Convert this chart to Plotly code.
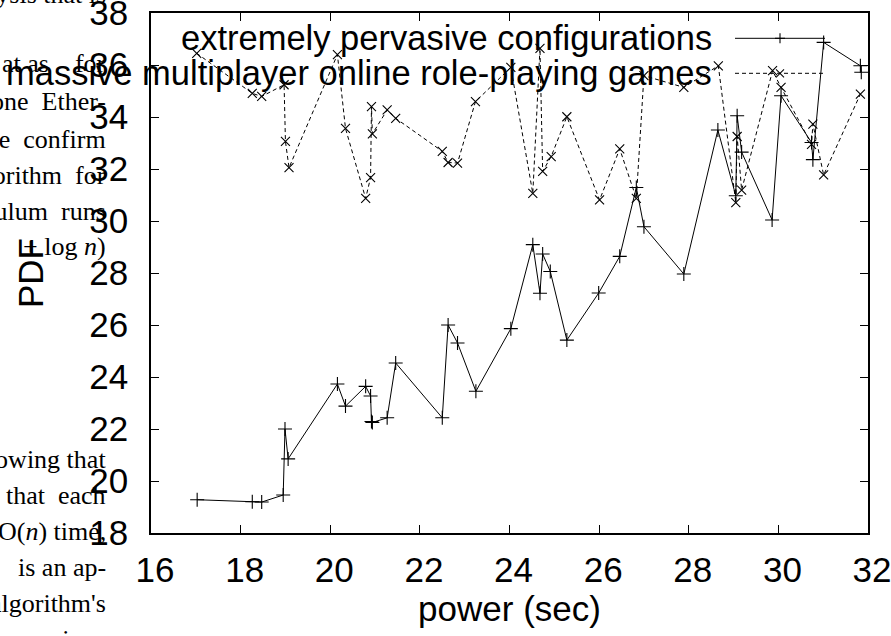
import plotly.graph_objects as go

# ---------------- data ----------------
x_solid = [17.03, 18.26, 18.47, 18.95, 18.99, 19.06, 20.16, 20.34, 20.79, 20.90,
           20.92, 20.94, 21.27, 21.46, 22.50, 22.63, 22.84, 23.25, 24.03, 24.52,
           24.68, 24.74, 24.91, 25.28, 25.99, 26.46, 26.83, 27.00, 27.89, 28.65,
           29.05, 29.08, 29.18, 29.86, 30.06, 30.74, 30.77, 31.01, 31.83, 31.85]
y_solid = [19.28, 19.20, 19.19, 19.46, 22.00, 20.85, 23.73, 22.88, 23.64, 23.27,
           22.29, 22.25, 22.43, 24.54, 22.43, 26.00, 25.31, 23.45, 25.86, 29.09,
           27.22, 28.73, 28.06, 25.42, 27.23, 28.64, 31.29, 29.78, 27.96, 33.50,
           30.97, 34.05, 32.65, 30.04, 34.82, 33.02, 32.36, 36.87, 35.97, 35.72]

x_dashed = [17.02, 18.26, 18.47, 18.97, 19.00, 19.08, 20.16, 20.34, 20.79, 20.90,
            20.92, 20.94, 21.27, 21.46, 22.50, 22.63, 22.84, 23.24, 24.03, 24.52,
            24.68, 24.74, 24.93, 25.28, 26.01, 26.46, 26.83, 27.00, 27.89, 28.66,
            29.05, 29.08, 29.18, 29.87, 30.06, 30.74, 30.77, 31.01, 31.83]
y_dashed = [36.45, 34.91, 34.79, 35.24, 33.06, 32.05, 36.40, 33.56, 30.87, 31.67,
            34.40, 33.35, 34.27, 33.95, 32.68, 32.25, 32.23, 34.59, 35.91, 31.06,
            36.64, 31.91, 32.48, 34.01, 30.81, 32.77, 30.87, 35.59, 35.14, 35.97,
            30.71, 33.25, 31.19, 35.78, 35.14, 32.95, 33.73, 31.77, 34.88]

series_names = ["extremely pervasive configurations",
                "massive multiplayer online role-playing games"]
x_ticks = [16, 18, 20, 22, 24, 26, 28, 30, 32]
y_ticks = [18, 20, 22, 24, 26, 28, 30, 32, 34, 36, 38]
x_title = "power (sec)"
y_title = "PDF"

# stray text of the surrounding paper page (baseline px, text)
page_lines = [
    (3, "analysis that is"),
    (72, "at as&nbsp;&nbsp;&nbsp;&nbsp;for"),
    (110, "one&nbsp;&nbsp;Ether-"),
    (147, "we&nbsp;&nbsp;confirm"),
    (183, "algorithm&nbsp;&nbsp;for"),
    (219, "pendulum&nbsp;&nbsp;runs"),
    (255, "+ log <i>n</i>)"),
    (467, "showing that"),
    (503, "that&nbsp;&nbsp;each"),
    (539, "O(<i>n</i>) time,"),
    (575, "is an ap-"),
    (611, "algorithm's"),
    (647, "previous"),
]

# ---------------- layout geometry ----------------
W, H = 891, 636
L, R, T, B = 151, 23, 13, 103
PW, PH = W - L - R, H - T - B
SANS = "Liberation Sans, Arial, Helvetica, sans-serif"
SERIF = "Liberation Serif, Times New Roman, serif"
FS = 35
KFS = 34.5
PFS = 26


def px(xp):
    return (xp - L) / PW


def py(yp):
    return (H - B - yp) / PH


fig = go.Figure()
fig.add_trace(go.Scatter(
    x=x_solid, y=y_solid, mode="lines+markers", name=series_names[0],
    line=dict(color="black", width=1),
    marker=dict(symbol="cross-thin", size=10, line=dict(color="black", width=1.1)),
    showlegend=False))
fig.add_trace(go.Scatter(
    x=x_dashed, y=y_dashed, mode="lines+markers", name=series_names[1],
    line=dict(color="black", width=1, dash="4px,3px"),
    marker=dict(symbol="x-thin", size=9, line=dict(color="black", width=1.1)),
    showlegend=False))

axis_common = dict(
    ticks="inside", ticklen=8, tickwidth=1.2, tickcolor="black",
    showline=True, linecolor="black", linewidth=1.5, mirror="ticks",
    showgrid=False, zeroline=False, ticklabeloverflow="allow",
    automargin=False,
    tickfont=dict(size=FS, family=SANS, color="black"),
)
fig.update_xaxes(range=[16, 32], tickvals=x_ticks, ticklabelstandoff=5,
                 ticklabelshift=4,
                 title=dict(text=x_title, font=dict(size=FS, family=SANS, color="black"),
                            standoff=7),
                 **axis_common)
fig.update_yaxes(range=[18, 38], tickvals=y_ticks, ticklabelstandoff=14,
                 title=dict(text=y_title, font=dict(size=FS, family=SANS, color="black"),
                            standoff=35),
                 **axis_common)

annotations = []
for base, txt in page_lines:
    annotations.append(dict(
        xref="paper", yref="paper", x=px(108), y=py(base - 8),
        xanchor="right", yanchor="middle", showarrow=False,
        text=txt, font=dict(size=PFS, family=SERIF, color="black")))

# gnuplot-style key: right-aligned text, sample to the right
key_rows = [38.3, 73.3]
shapes = []
for i, (name, yk) in enumerate(zip(series_names, key_rows)):
    annotations.append(dict(
        xref="paper", yref="paper", x=px(714), y=py(yk),
        xanchor="right", yanchor="middle", showarrow=False,
        text=name, font=dict(size=KFS, family=SANS, color="black")))
    shapes.append(dict(type="line", xref="paper", yref="paper",
                       x0=px(735), x1=px(825), y0=py(yk), y1=py(yk),
                       line=dict(color="black", width=1,
                                 dash="solid" if i == 0 else "4px,3px")))
    if i == 0:
        shapes.append(dict(type="line", xref="paper", yref="paper",
                           x0=px(775), x1=px(785), y0=py(yk), y1=py(yk),
                           line=dict(color="black", width=1.1)))
        shapes.append(dict(type="line", xref="paper", yref="paper",
                           x0=px(780), x1=px(780), y0=py(yk - 5), y1=py(yk + 5),
                           line=dict(color="black", width=1.1)))
    else:
        shapes.append(dict(type="line", xref="paper", yref="paper",
                           x0=px(776), x1=px(784), y0=py(yk - 4), y1=py(yk + 4),
                           line=dict(color="black", width=1.1)))
        shapes.append(dict(type="line", xref="paper", yref="paper",
                           x0=px(776), x1=px(784), y0=py(yk + 4), y1=py(yk - 4),
                           line=dict(color="black", width=1.1)))

fig.update_layout(
    width=W, height=H,
    margin=dict(l=L, r=R, t=T, b=B, pad=0),
    paper_bgcolor="white", plot_bgcolor="white",
    font=dict(family=SANS, color="black"),
    annotations=annotations, shapes=shapes,
    showlegend=False,
)

fig.write_html("out.html",
               config={"displayModeBar": False},
               post_script="document.body.style.margin='0';"
                           "document.body.style.overflow='hidden';")
